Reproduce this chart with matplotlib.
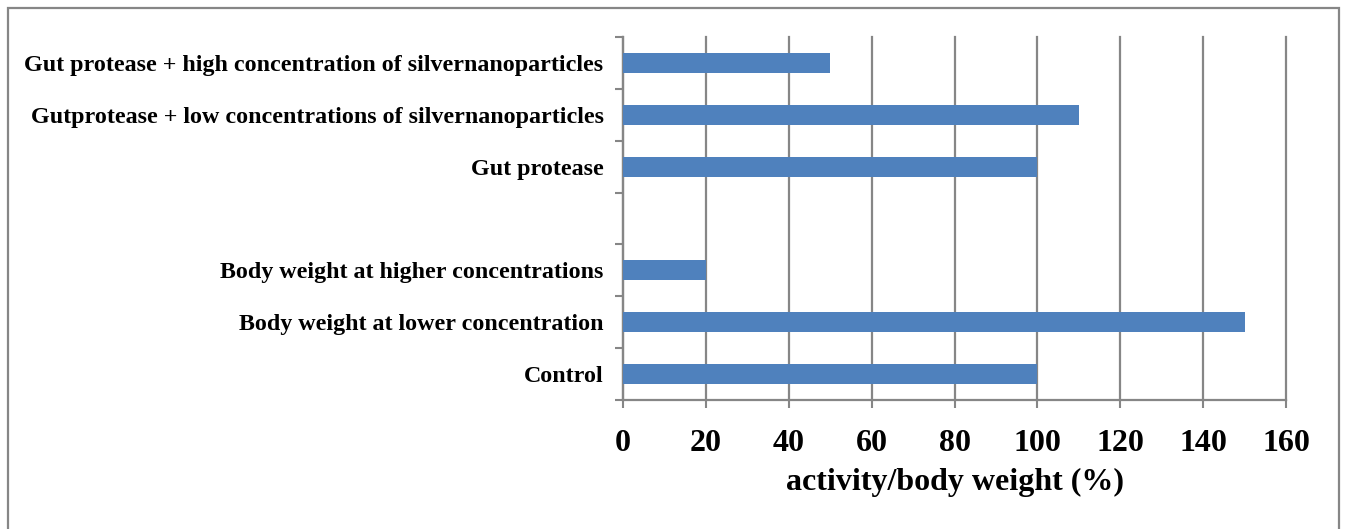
import numpy as np
import matplotlib.pyplot as plt
from matplotlib.patches import Rectangle

categories = [
    "Control",
    "Body weight at lower concentration",
    "Body weight at higher concentrations",
    "",
    "Gut protease",
    "Gutprotease + low concentrations of silvernanoparticles",
    "Gut protease + high concentration of silvernanoparticles",
]
values = [100, 150, 20, np.nan, 100, 110, 50]

plt.rcParams['font.family'] = ['Liberation Serif', 'DejaVu Serif']
plt.rcParams['font.weight'] = 'bold'

fig = plt.figure(figsize=(13.46, 5.29), dpi=100)
ax = fig.add_axes([0.4629, 0.2439, 0.4925, 0.6862])

# outer frame
fig.patches.append(Rectangle((8 / 1346, -0.1), (1339 - 8) / 1346, 1.1 - 8 / 529,
                             transform=fig.transFigure, fill=False,
                             edgecolor='#868686', linewidth=1.6))

y = np.arange(len(categories))
ax.barh(y, values, height=0.39, color='#4F81BD', zorder=3)

ax.set_xlim(0, 160)
ax.set_ylim(-0.5, len(categories) - 0.5)
ax.set_xticks(np.arange(0, 161, 20))
ax.set_yticks(y)
ax.set_yticklabels(categories, fontsize=17.3, fontweight='bold')
ax.set_yticks(np.arange(-0.5, len(categories), 1), minor=True)
ax.tick_params(axis='y', which='major', length=0, pad=14)
ax.tick_params(axis='y', which='minor', length=6, width=1.5, color='#868686', direction='out')
ax.tick_params(axis='x', length=6, width=1.5, color='#868686', labelsize=23, pad=15)
for lab in ax.get_xticklabels():
    lab.set_fontweight('bold')

ax.xaxis.grid(True, color='#868686', linewidth=1.6, zorder=0)
for gl in ax.get_xgridlines():
    gl.set_clip_on(False)
ax.set_axisbelow(True)
for s in ['top', 'right']:
    ax.spines[s].set_visible(False)
for s in ['left', 'bottom']:
    ax.spines[s].set_color('#868686')
    ax.spines[s].set_linewidth(1.6)

ax.set_xlabel("activity/body weight (%)", fontsize=23, fontweight='bold', labelpad=7)

fig.savefig("out.png", dpi=100)
